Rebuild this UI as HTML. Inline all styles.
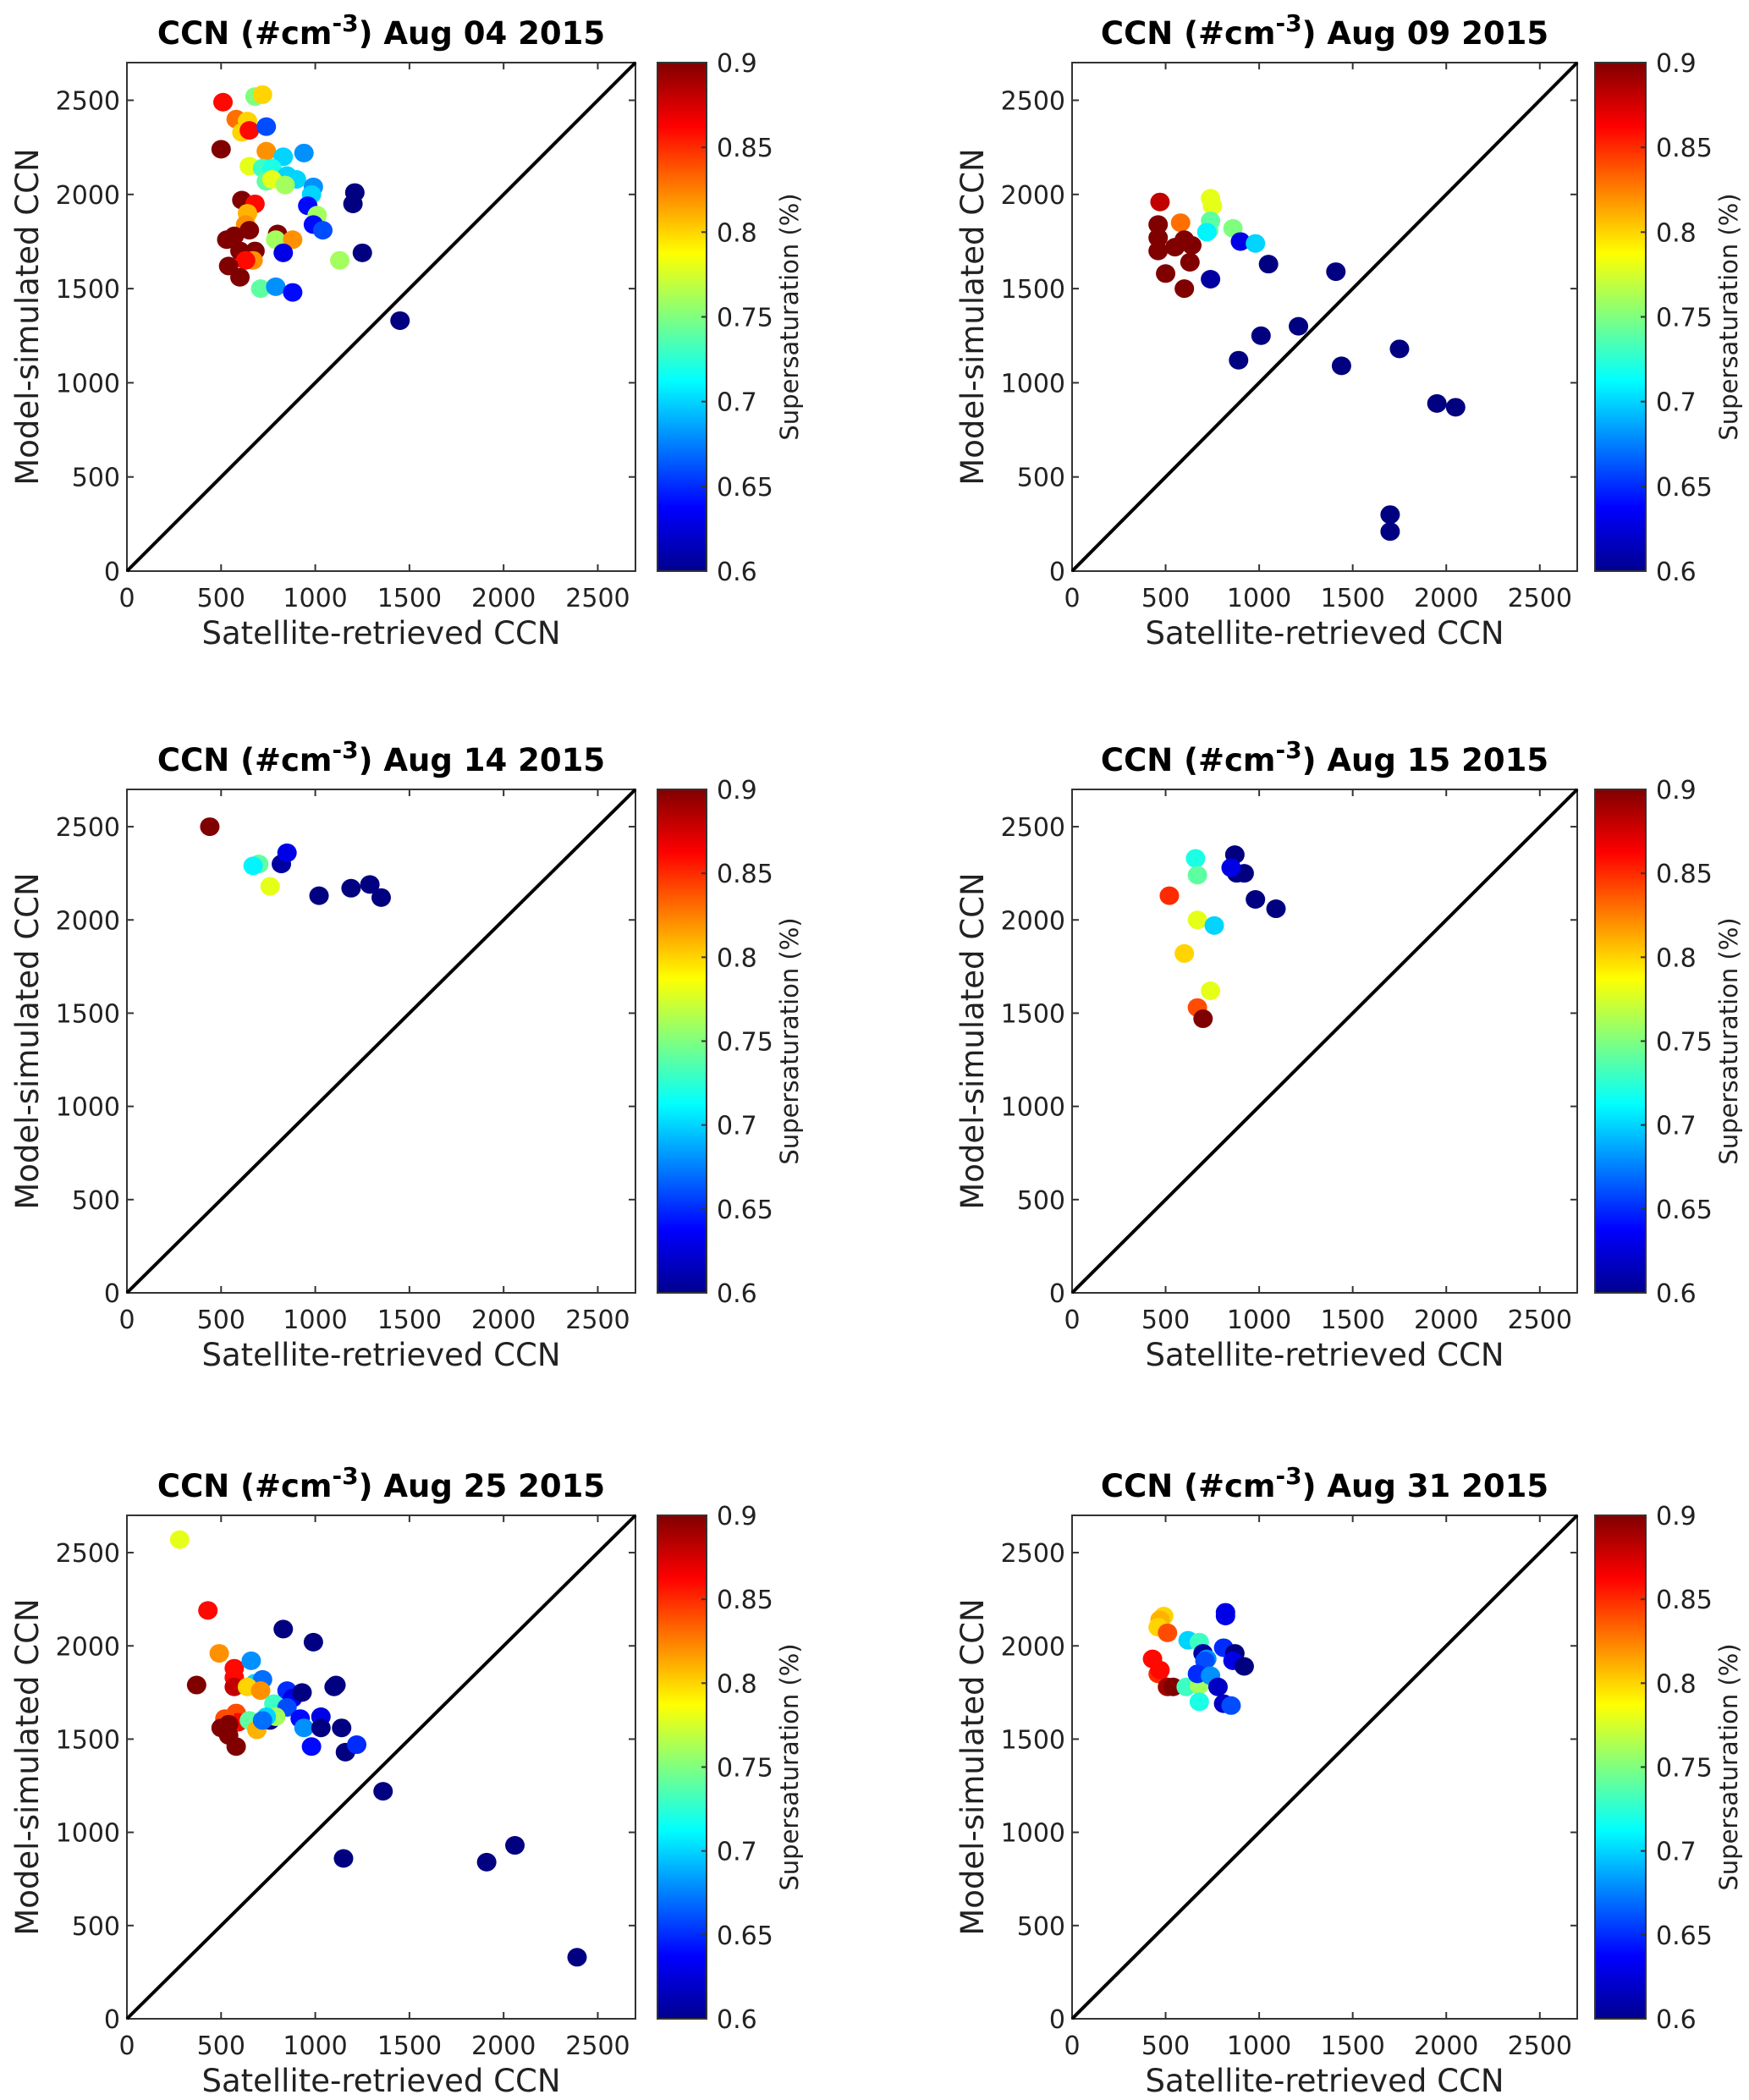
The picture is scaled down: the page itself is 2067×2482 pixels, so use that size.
<!DOCTYPE html>
<html><head><meta charset="utf-8"><style>
html,body{margin:0;padding:0;background:#fff;}
svg{display:block;font-family:"DejaVu Sans","Liberation Sans",sans-serif;}
</style></head><body>
<svg id="fig" width="2067" height="2482" viewBox="0 0 2067 2482" xmlns="http://www.w3.org/2000/svg">
<defs>
<linearGradient id="jet" x1="0" y1="1" x2="0" y2="0">
<stop offset="0" stop-color="#00008f"/><stop offset="0.125" stop-color="#0000ff"/><stop offset="0.375" stop-color="#00ffff"/><stop offset="0.625" stop-color="#ffff00"/><stop offset="0.875" stop-color="#ff0000"/><stop offset="1" stop-color="#800000"/>
</linearGradient>
</defs>
</svg>
<script>
const titles = ["Aug 04 2015","Aug 09 2015","Aug 14 2015","Aug 15 2015","Aug 25 2015","Aug 31 2015"];
const axisTicks = [0,500,1000,1500,2000,2500];
const cbTicks = [0.6,0.65,0.7,0.75,0.8,0.85,0.9];
const aug04x = [510,680,720,580,640,610,650,740,500,740,830,940,650,720,770,850,900,740,770,840,990,980,960,1210,1200,610,680,640,630,650,800,790,880,1010,990,1040,530,570,600,680,670,630,830,1130,1250,540,600,710,790,880,1450];
const aug04y = [2490,2520,2530,2400,2390,2330,2340,2360,2240,2230,2200,2220,2150,2140,2140,2100,2080,2070,2080,2050,2040,2000,1940,2010,1950,1970,1950,1900,1840,1810,1790,1760,1760,1890,1840,1810,1760,1780,1700,1700,1650,1650,1690,1650,1690,1620,1560,1500,1510,1480,1330];
const aug04s = [0.86,0.75,0.8,0.83,0.8,0.8,0.86,0.66,0.9,0.82,0.7,0.68,0.78,0.73,0.72,0.7,0.7,0.74,0.78,0.76,0.68,0.7,0.64,0.6,0.6,0.9,0.86,0.81,0.82,0.9,0.9,0.76,0.82,0.76,0.64,0.66,0.9,0.9,0.9,0.9,0.82,0.86,0.63,0.76,0.6,0.9,0.9,0.74,0.68,0.64,0.6];
const aug09x = [470,460,460,460,580,740,750,740,730,720,860,600,640,550,900,980,500,630,600,740,1050,1410,1010,1210,890,1440,1750,1950,2050,1700,1700];
const aug09y = [1960,1840,1770,1700,1850,1980,1940,1860,1810,1800,1820,1760,1730,1720,1750,1740,1580,1640,1500,1550,1630,1590,1250,1300,1120,1090,1180,890,870,300,210];
const aug09s = [0.88,0.9,0.9,0.9,0.83,0.78,0.78,0.74,0.74,0.71,0.75,0.9,0.9,0.9,0.63,0.7,0.9,0.9,0.9,0.61,0.6,0.6,0.6,0.6,0.6,0.6,0.6,0.6,0.6,0.6,0.6];
const aug14x = [440,700,670,820,850,760,1020,1190,1290,1350];
const aug14y = [2500,2300,2290,2300,2360,2180,2130,2170,2190,2120];
const aug14s = [0.9,0.74,0.71,0.61,0.63,0.78,0.6,0.6,0.6,0.6];
const aug15x = [520,660,670,870,880,920,850,980,1090,670,760,600,740,670,700];
const aug15y = [2130,2330,2240,2350,2250,2250,2280,2110,2060,2000,1970,1820,1620,1530,1470];
const aug15s = [0.85,0.72,0.74,0.6,0.6,0.6,0.63,0.6,0.6,0.78,0.7,0.8,0.78,0.84,0.9];
const aug25x = [280,430,830,990,490,570,660,570,680,720,370,570,640,710,850,880,930,1100,1110,780,850,580,590,650,690,760,790,740,720,920,940,1030,1030,1140,520,500,540,540,580,980,1160,1220,1360,1150,1910,2060,2390];
const aug25y = [2570,2190,2090,2020,1960,1880,1920,1830,1800,1820,1790,1780,1780,1760,1760,1720,1750,1780,1790,1690,1670,1640,1590,1600,1550,1600,1620,1620,1600,1610,1560,1620,1560,1560,1610,1560,1580,1520,1460,1460,1430,1470,1220,860,840,930,330];
const aug25s = [0.78,0.86,0.6,0.6,0.82,0.86,0.68,0.86,0.7,0.67,0.9,0.88,0.8,0.82,0.65,0.63,0.6,0.6,0.6,0.73,0.66,0.84,0.86,0.74,0.81,0.6,0.76,0.7,0.67,0.64,0.68,0.63,0.6,0.6,0.84,0.9,0.9,0.9,0.9,0.64,0.6,0.65,0.6,0.6,0.6,0.6,0.6];
const aug31x = [490,470,460,510,620,680,820,820,810,700,870,720,710,860,920,430,460,470,510,540,610,680,670,740,780,680,810,850];
const aug31y = [2160,2140,2100,2070,2030,2020,2180,2160,1990,1960,1960,1930,1920,1920,1890,1930,1850,1870,1780,1780,1780,1790,1850,1840,1780,1700,1690,1680];
const aug31s = [0.8,0.81,0.8,0.84,0.7,0.73,0.63,0.63,0.65,0.61,0.6,0.68,0.66,0.63,0.6,0.86,0.85,0.86,0.89,0.9,0.73,0.76,0.65,0.68,0.62,0.72,0.62,0.66];
const panelX = [aug04x,aug09x,aug14x,aug15x,aug25x,aug31x];
const panelY = [aug04y,aug09y,aug14y,aug15y,aug25y,aug31y];
const panelS = [aug04s,aug09s,aug14s,aug15s,aug25s,aug31s];

const NS = "http://www.w3.org/2000/svg";
const svg = document.getElementById("fig");
const AX_MAX = 2700;
const cols = [{l:150,r:751,cl:777,cr:835},{l:1267,r:1864,cl:1885,cr:1945}];
const rows = [{t:74,b:675},{t:933,b:1528},{t:1791,b:2386}];
function mk(tag, attrs, parent){const e=document.createElementNS(NS,tag);for(const k in attrs)e.setAttribute(k,attrs[k]);(parent||svg).appendChild(e);return e;}
function clamp(v){return Math.max(0,Math.min(1,v));}
function jet(s){const t=clamp((s-0.6)/0.3);const r=clamp(1.5-Math.abs(4*t-3)),g=clamp(1.5-Math.abs(4*t-2)),b=clamp(1.5-Math.abs(4*t-1));return "rgb("+Math.round(r*255)+","+Math.round(g*255)+","+Math.round(b*255)+")";}

for(let p=0;p<6;p++){
  const c=cols[p%2], rw=rows[Math.floor(p/2)];
  const sx=v=>c.l+(v/AX_MAX)*(c.r-c.l);
  const sy=v=>rw.b-(v/AX_MAX)*(rw.b-rw.t);
  const g=mk("g",{});
  
  
  const title=mk("text",{x:(c.l+c.r)/2,y:rw.t-22,"text-anchor":"middle","font-size":"37","font-weight":"bold"},g);
  
  
  title.innerHTML='CCN (#cm<tspan dy="-15" font-size="28">-3</tspan><tspan dy="15">) '+titles[p]+'</tspan>';
  const frame=mk("rect",{x:c.l,y:rw.t,width:c.r-c.l,height:rw.b-rw.t,fill:"#fff",stroke:"#333","stroke-width":"2"},g);
  
  
  for(const v of axisTicks){
    const X=sx(v),Y=sy(v);
    mk("line",{x1:X,y1:rw.b,x2:X,y2:rw.b-8,stroke:"#333","stroke-width":"2"},g);
    mk("line",{x1:X,y1:rw.t,x2:X,y2:rw.t+8,stroke:"#333","stroke-width":"2"},g);
    mk("line",{x1:c.l,y1:Y,x2:c.l+8,y2:Y,stroke:"#333","stroke-width":"2"},g);
    mk("line",{x1:c.r,y1:Y,x2:c.r-8,y2:Y,stroke:"#333","stroke-width":"2"},g);
    const xt=mk("text",{x:X,y:rw.b+42,"text-anchor":"middle","font-size":"30",fill:"#222"},g);
    
    
    xt.textContent=v;
    const yt=mk("text",{x:c.l-8,y:Y+11,"text-anchor":"end","font-size":"30",fill:"#222"},g);
    
    
    yt.textContent=v;
  }
  const xl=mk("text",{x:(c.l+c.r)/2,y:rw.b+86,"text-anchor":"middle","font-size":"37",fill:"#222"},g);
  
  
  xl.textContent="Satellite-retrieved CCN";
  const yc=(rw.t+rw.b)/2, ylx=c.l-105;
  const yl=mk("text",{x:ylx,y:yc,"text-anchor":"middle","font-size":"37",fill:"#222",transform:"rotate(-90 "+ylx+" "+yc+")"},g);
  
  
  yl.textContent="Model-simulated CCN";
  const diag=mk("line",{x1:sx(0),y1:sy(0),x2:sx(AX_MAX),y2:sy(AX_MAX),stroke:"#000","stroke-width":"4"},g);
  
  
  const xs=panelX[p], ys=panelY[p], ss=panelS[p];
  for(let i=0;i<xs.length;i++){
    const pt=mk("ellipse",{cx:sx(xs[i]),cy:sy(ys[i]),rx:11.5,ry:11,fill:jet(ss[i])},g);
    
    
  }
  const cb=mk("rect",{x:c.cl,y:rw.t,width:c.cr-c.cl,height:rw.b-rw.t,fill:"url(#jet)",stroke:"#333","stroke-width":"2"},g);
  
  
  for(const v of cbTicks){
    const Y=rw.b-(v-0.6)/0.3*(rw.b-rw.t);
    mk("line",{x1:c.cr,y1:Y,x2:c.cr-6,y2:Y,stroke:"#333","stroke-width":"2"},g);
    const ct=mk("text",{x:c.cr+12,y:Y+11,"font-size":"30",fill:"#222"},g);
    
    
    ct.textContent=v;
  }
  const cx=c.cr+108;
  const cl=mk("text",{x:cx,y:yc,"text-anchor":"middle","font-size":"29",fill:"#222",transform:"rotate(-90 "+cx+" "+yc+")"},g);
  
  
  cl.textContent="Supersaturation (%)";
}
</script>
</body></html>
